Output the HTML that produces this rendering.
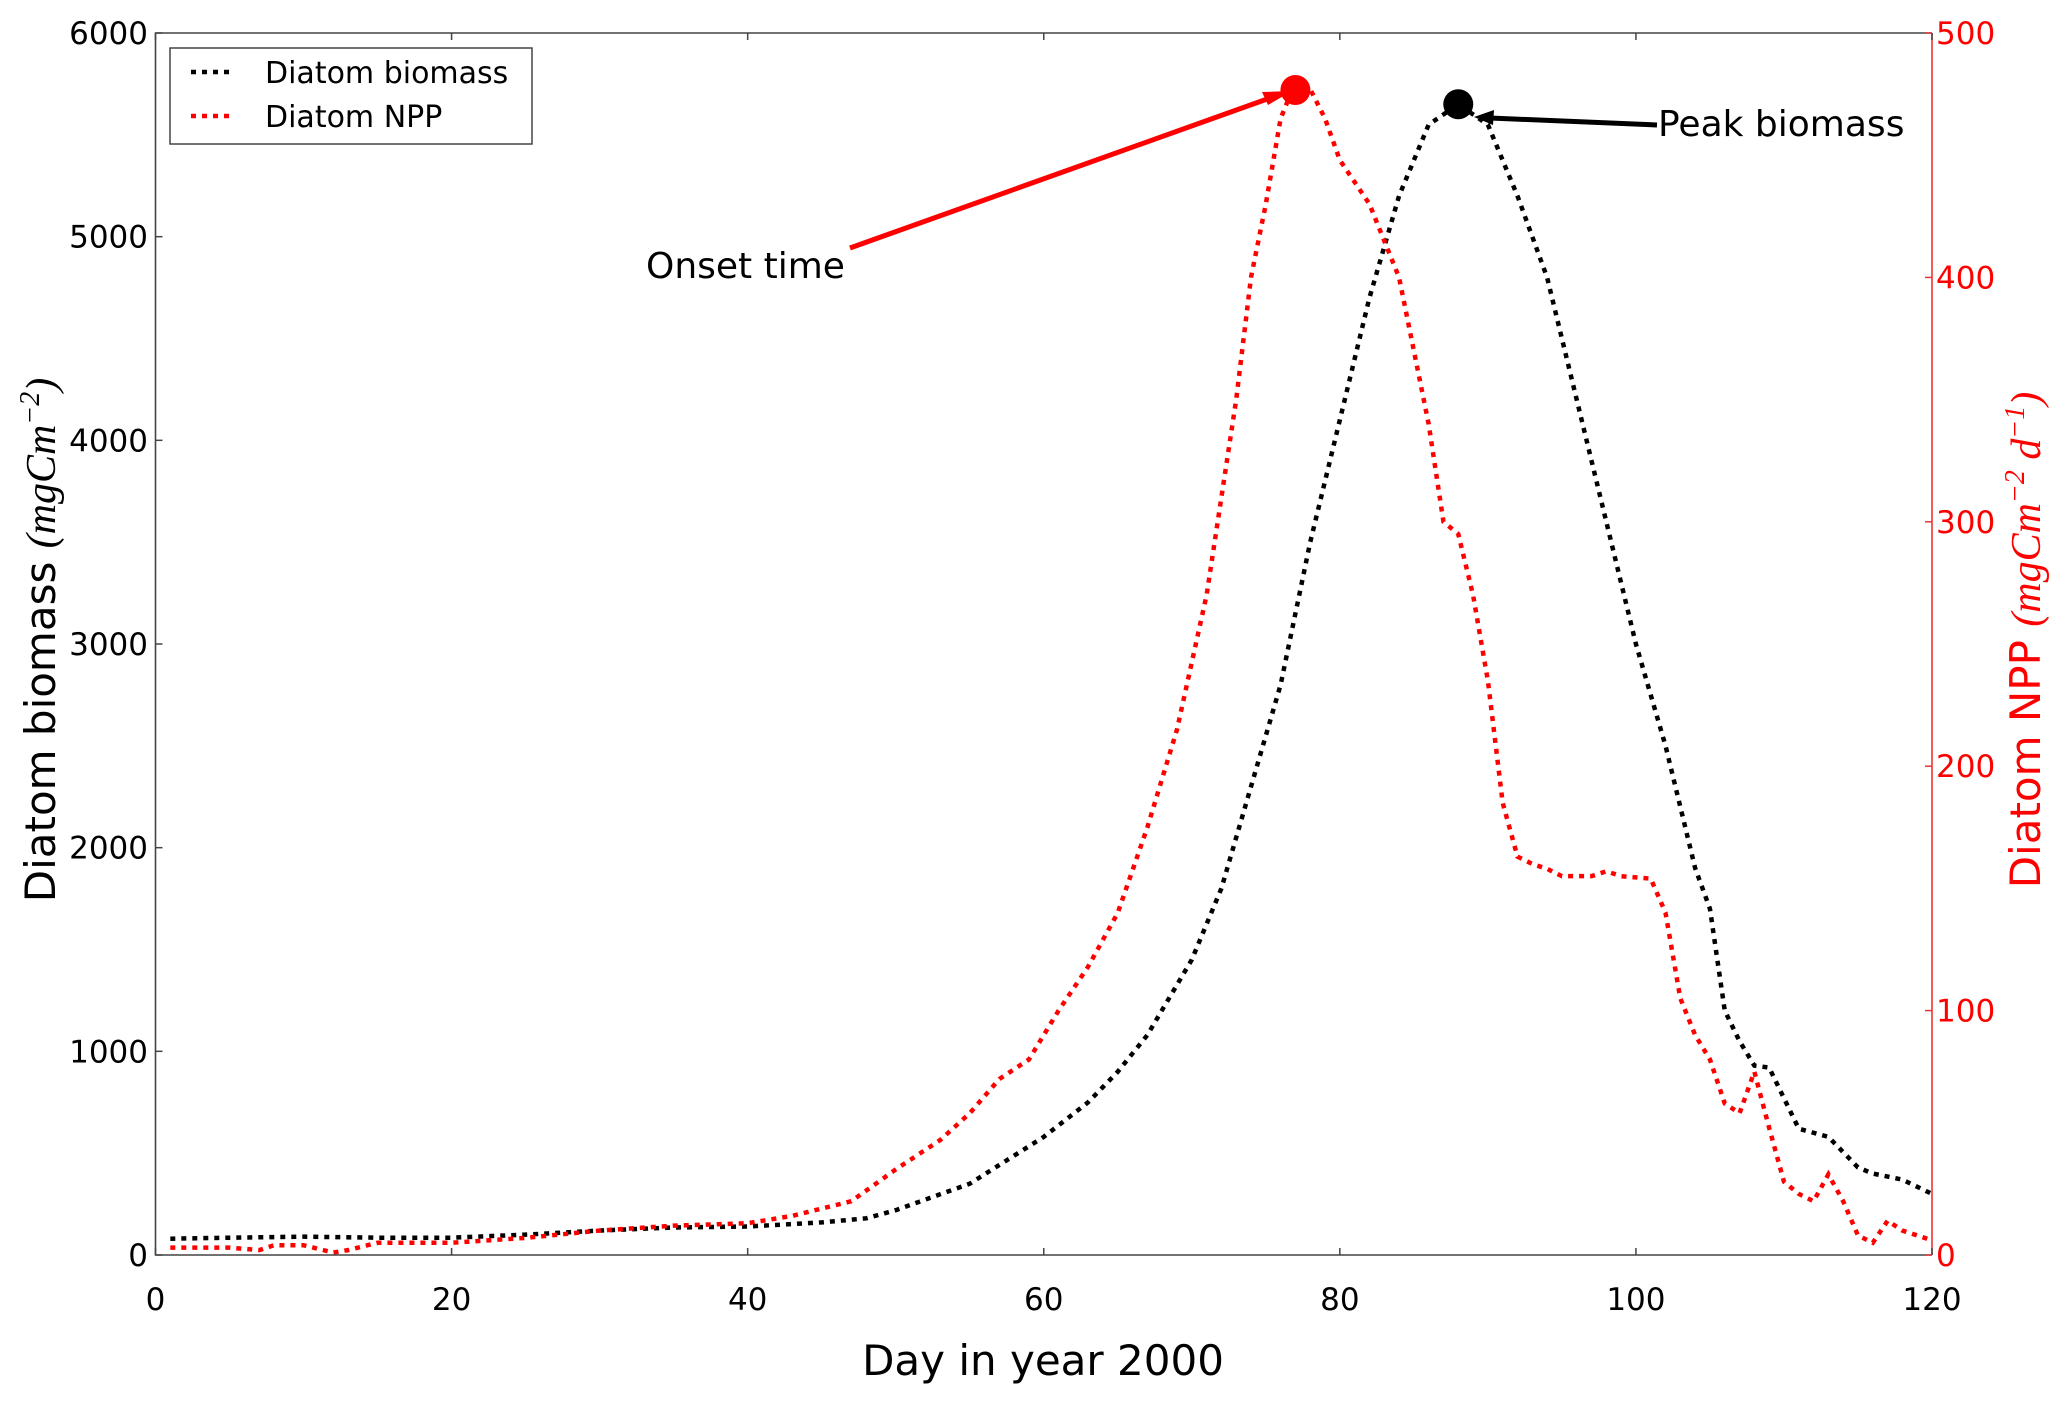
<!DOCTYPE html>
<html><head><meta charset="utf-8"><style>
body{margin:0;background:#fff}
svg{display:block;font-family:"DejaVu Sans","Liberation Sans",sans-serif}
</style></head><body>
<svg id="chart" width="2067" height="1404" viewBox="0 0 2067 1404" xmlns="http://www.w3.org/2000/svg">
<g id="plot"></g>
</svg>
<script>
const days=[1,5,10,15,20,25,30,35,40,45,48,50,55,60,63,65,67,70,72,74,76,78,80,82,84,86,88,90,92,94,96,98,100,102,104,105,106,107,108,109,111,113,115,116,118,120];
const biomass=[80,85,90,85,85,100,120,135,140,160,180,220,350,580,750,900,1080,1450,1800,2300,2800,3500,4100,4700,5200,5550,5650,5550,5200,4800,4200,3600,3000,2500,1900,1700,1200,1050,930,920,620,580,430,400,370,300];
const nppDays=[1,3,5,7,8,10,12,13,15,20,25,30,35,40,43,45,47,50,53,55,57,59,61,63,65,67,69,71,72,73,74,75,76,77,78,79,80,82,84,86,87,88,89,90,91,92,93,94,95,97,98,99,101,102,103,104,105,106,107,108,109,110,111,112,113,114,115,116,117,118,120];
const npp=[3,3,3,2,4,4,1,2,5,5,7,10,12,13,16,19,22,35,47,58,72,80,100,118,140,175,215,270,310,350,400,430,465,480,477,465,448,430,400,340,300,295,270,235,185,163,160,158,155,155,157,155,154,140,105,90,80,62,58,75,52,30,25,22,33,22,8,5,14,10,6];
const xTicks=[0,20,40,60,80,100,120];
const yTicks=[0,1000,2000,3000,4000,5000,6000];
const y2Ticks=[0,100,200,300,400,500];
const onset=[77,5720];
const peak=[88,5650];

const L=155.5,R=1932,T=33,B=1255;
const xs=d=>L+(d/120)*(R-L);
const ys=v=>B-(v/6000)*(B-T);
const ys2=v=>B-(v/500)*(B-T);
const NS='http://www.w3.org/2000/svg';
const g=document.getElementById('plot');
function mk(tag,attrs,parent){const e=document.createElementNS(NS,tag);for(const k in attrs)e.setAttribute(k,attrs[k]);(parent||g).appendChild(e);return e;}

let p1=mk('path',{d:days.map((d,i)=>(i?'L':'M')+xs(d)+','+ys(biomass[i])).join(''),fill:'none',stroke:'#000','stroke-width':4.5,'stroke-dasharray':'5,6'});


let p2=mk('path',{d:nppDays.map((d,i)=>(i?'L':'M')+xs(d)+','+ys2(npp[i])).join(''),fill:'none',stroke:'#f00','stroke-width':4.5,'stroke-dasharray':'5,6'});



let fr=mk('path',{d:`M${R},${B}L${L},${B}L${L},${T}L${R},${T}`,fill:'none',stroke:'#444','stroke-width':1.6});


let rs=mk('line',{x1:R,y1:T,x2:R,y2:B,stroke:'#e33','stroke-width':1.6});



xTicks.forEach(t=>{const x=xs(t);
 mk('line',{x1:x,y1:B,x2:x,y2:B-7,stroke:'#444','stroke-width':1.5});
 mk('line',{x1:x,y1:T,x2:x,y2:T+7,stroke:'#444','stroke-width':1.5});
 let tx=mk('text',{x:x,y:1310,'text-anchor':'middle','font-size':31,fill:'#000'});tx.textContent=t;
 
 
});
yTicks.forEach(t=>{const y=ys(t);
 mk('line',{x1:L,y1:y,x2:L+7,y2:y,stroke:'#444','stroke-width':1.5});
 let tx=mk('text',{x:148,y:y+11,'text-anchor':'end','font-size':31,fill:'#000'});tx.textContent=t;
 
 
});
y2Ticks.forEach(t=>{const y=ys2(t);
 mk('line',{x1:R,y1:y,x2:R-7,y2:y,stroke:'#e33','stroke-width':1.5});
 let tx=mk('text',{x:1936,y:y+11,'font-size':31,fill:'#f00'});tx.textContent=t;
 
 
});

let a1=mk('line',{x1:850,y1:248,x2:1270,y2:98,stroke:'#f00','stroke-width':5});


mk('polygon',{points:'1292,91 1262,92 1268,105',fill:'#f00'});
let d1=mk('circle',{cx:xs(onset[0]),cy:ys(onset[1]),r:15,fill:'#f00'});


let a2=mk('line',{x1:1657,y1:125,x2:1490,y2:118,stroke:'#000','stroke-width':5});


mk('polygon',{points:'1474,117 1494,110 1493,125',fill:'#000'});
let d2=mk('circle',{cx:xs(peak[0]),cy:ys(peak[1]),r:15,fill:'#000'});


let t1=mk('text',{x:646,y:278,'font-size':36,fill:'#000'});t1.textContent='Onset time';


let t2=mk('text',{x:1658,y:136,'font-size':36,fill:'#000'});t2.textContent='Peak biomass';



let lg=mk('g',{});


mk('rect',{x:170,y:48,width:362,height:96,fill:'#fff',stroke:'#444','stroke-width':1.5},lg);
mk('line',{x1:191,y1:72,x2:234,y2:72,stroke:'#000','stroke-width':4.5,'stroke-dasharray':'5,6'},lg);
mk('line',{x1:191,y1:116,x2:234,y2:116,stroke:'#f00','stroke-width':4.5,'stroke-dasharray':'5,6'},lg);
let l1=mk('text',{x:265,y:83,'font-size':30,fill:'#000'},lg);l1.textContent='Diatom  biomass';


let l2=mk('text',{x:265,y:127,'font-size':30,fill:'#000'},lg);l2.textContent='Diatom  NPP';



let xl=mk('text',{x:1043,y:1375,'text-anchor':'middle','font-size':42,fill:'#000'});xl.textContent='Day in year 2000';


let yl=mk('text',{x:0,y:0,'text-anchor':'middle','font-size':42,fill:'#000',transform:'translate(55,640) rotate(-90)'});
yl.innerHTML='Diatom  biomass <tspan font-family="Liberation Serif,serif" font-style="italic">(mgCm</tspan><tspan font-family="Liberation Serif,serif" font-style="italic" font-size="28" dy="-16">−2</tspan><tspan font-family="Liberation Serif,serif" font-style="italic" dy="16">)</tspan>';


let y2l=mk('text',{x:0,y:0,'text-anchor':'middle','font-size':42,fill:'#f00',transform:'translate(2040,640) rotate(-90)'});
y2l.innerHTML='Diatom NPP <tspan font-family="Liberation Serif,serif" font-style="italic">(mgCm</tspan><tspan font-family="Liberation Serif,serif" font-style="italic" font-size="28" dy="-16">−2</tspan><tspan font-family="Liberation Serif,serif" font-style="italic" dy="16"> d</tspan><tspan font-family="Liberation Serif,serif" font-style="italic" font-size="28" dy="-16">−1</tspan><tspan font-family="Liberation Serif,serif" font-style="italic" dy="16">)</tspan>';


</script>
</body></html>
